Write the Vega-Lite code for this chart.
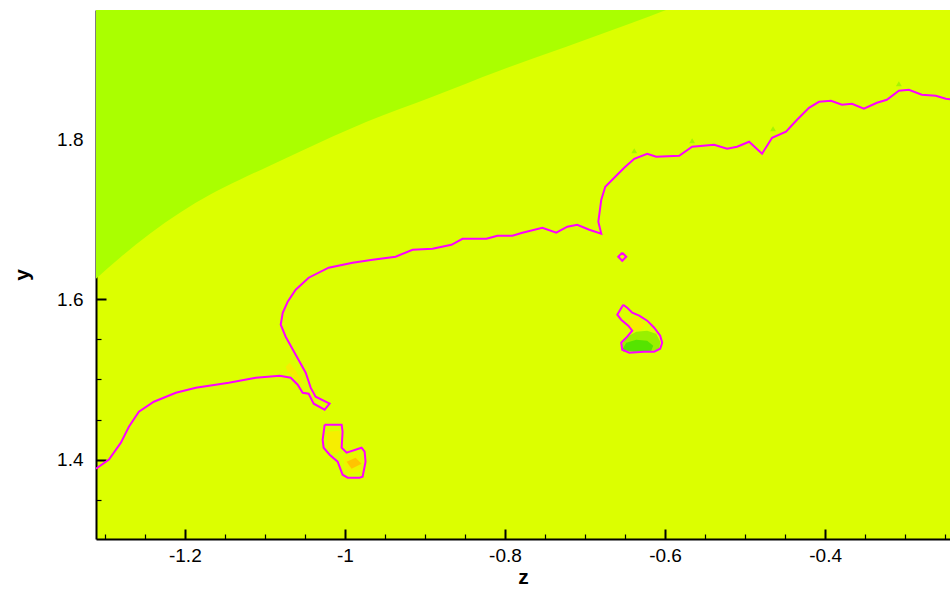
{
  "$schema": "https://vega.github.io/schema/vega-lite/v6.json",
  "width": 854,
  "height": 529,
  "autosize": "none",
  "padding": {"left": 96, "top": 10, "right": 0, "bottom": 51},
  "background": "white",
  "config": {
    "view": {"stroke": null, "fill": "#dcff00"},
    "font": "Liberation Sans"
  },
  "datasets": {
    "bnd": [
      {"z": -1.311, "y": 1.6257}, {"z": -1.2811, "y": 1.6519}, {"z": -1.2437, "y": 1.6819},
      {"z": -1.2062, "y": 1.7081}, {"z": -1.1688, "y": 1.7305}, {"z": -1.1314, "y": 1.7492},
      {"z": -1.0939, "y": 1.7667}, {"z": -1.0565, "y": 1.7842}, {"z": -0.9729, "y": 1.8216},
      {"z": -0.8906, "y": 1.8528}, {"z": -0.807, "y": 1.8852}, {"z": -0.7234, "y": 1.9151},
      {"z": -0.641, "y": 1.9451}, {"z": -0.5949, "y": 1.9625}
    ],
    "patches": [
      {"s": "lg1", "c": "lightgreen", "i": 0, "z": -0.6548, "y": 1.5422},
      {"s": "lg1", "c": "lightgreen", "i": 1, "z": -0.6473, "y": 1.5534},
      {"s": "lg1", "c": "lightgreen", "i": 2, "z": -0.636, "y": 1.5597},
      {"s": "lg1", "c": "lightgreen", "i": 3, "z": -0.6223, "y": 1.5609},
      {"s": "lg1", "c": "lightgreen", "i": 4, "z": -0.6111, "y": 1.5572},
      {"s": "lg1", "c": "lightgreen", "i": 5, "z": -0.6061, "y": 1.5472},
      {"s": "lg1", "c": "lightgreen", "i": 6, "z": -0.6073, "y": 1.5372},
      {"s": "lg1", "c": "lightgreen", "i": 7, "z": -0.6261, "y": 1.5347},
      {"s": "lg1", "c": "lightgreen", "i": 8, "z": -0.6523, "y": 1.5347},
      {"s": "g1", "c": "green", "i": 0, "z": -0.6535, "y": 1.5372},
      {"s": "g1", "c": "green", "i": 1, "z": -0.6485, "y": 1.5459},
      {"s": "g1", "c": "green", "i": 2, "z": -0.636, "y": 1.5497},
      {"s": "g1", "c": "green", "i": 3, "z": -0.6223, "y": 1.5484},
      {"s": "g1", "c": "green", "i": 4, "z": -0.6148, "y": 1.5422},
      {"s": "g1", "c": "green", "i": 5, "z": -0.6173, "y": 1.5359},
      {"s": "g1", "c": "green", "i": 6, "z": -0.6385, "y": 1.5347},
      {"s": "y1", "c": "yellow", "i": 0, "z": -0.6473, "y": 1.5746},
      {"s": "y1", "c": "yellow", "i": 1, "z": -0.636, "y": 1.5784},
      {"s": "y1", "c": "yellow", "i": 2, "z": -0.6248, "y": 1.5696},
      {"s": "y1", "c": "yellow", "i": 3, "z": -0.6311, "y": 1.5609},
      {"s": "y1", "c": "yellow", "i": 4, "z": -0.6435, "y": 1.5634},
      {"s": "y2", "c": "yellow", "i": 0, "z": -1.0228, "y": 1.4349},
      {"s": "y2", "c": "yellow", "i": 1, "z": -1.0066, "y": 1.4361},
      {"s": "y2", "c": "yellow", "i": 2, "z": -1.0054, "y": 1.4124},
      {"s": "y2", "c": "yellow", "i": 3, "z": -1.0116, "y": 1.4062},
      {"s": "y2", "c": "yellow", "i": 4, "z": -1.0216, "y": 1.4137},
      {"s": "ly2", "c": "lightyellow", "i": 0, "z": -1.0016, "y": 1.4025},
      {"s": "ly2", "c": "lightyellow", "i": 1, "z": -0.9842, "y": 1.4087},
      {"s": "ly2", "c": "lightyellow", "i": 2, "z": -0.9792, "y": 1.4},
      {"s": "ly2", "c": "lightyellow", "i": 3, "z": -0.9804, "y": 1.385},
      {"s": "ly2", "c": "lightyellow", "i": 4, "z": -0.9941, "y": 1.3825},
      {"s": "ly2", "c": "lightyellow", "i": 5, "z": -1.0004, "y": 1.3912},
      {"s": "o2", "c": "orange", "i": 0, "z": -0.9979, "y": 1.3975},
      {"s": "o2", "c": "orange", "i": 1, "z": -0.9867, "y": 1.4025},
      {"s": "o2", "c": "orange", "i": 2, "z": -0.9792, "y": 1.395},
      {"s": "o2", "c": "orange", "i": 3, "z": -0.9917, "y": 1.3887},
      {"s": "y3", "c": "yellow", "i": 0, "z": -1.069, "y": 1.521},
      {"s": "y3", "c": "yellow", "i": 1, "z": -1.0615, "y": 1.511},
      {"s": "y3", "c": "yellow", "i": 2, "z": -1.0503, "y": 1.4923},
      {"s": "y3", "c": "yellow", "i": 3, "z": -1.0578, "y": 1.4985},
      {"s": "y3", "c": "yellow", "i": 4, "z": -1.0715, "y": 1.5097},
      {"s": "y3", "c": "yellow", "i": 5, "z": -1.074, "y": 1.5159}
    ],
    "tri": [
      {"z": -0.6385, "y": 1.7854}, {"z": -0.5662, "y": 1.7979},
      {"z": -0.4651, "y": 1.8129}, {"z": -0.3079, "y": 1.869}
    ],
    "contours": [
      {"s": "main", "i": 0, "z": -1.311, "y": 1.3887},
      {"s": "main", "i": 1, "z": -1.2948, "y": 1.4},
      {"s": "main", "i": 2, "z": -1.2799, "y": 1.4212},
      {"s": "main", "i": 3, "z": -1.2699, "y": 1.4411},
      {"s": "main", "i": 4, "z": -1.2574, "y": 1.4598},
      {"s": "main", "i": 5, "z": -1.2387, "y": 1.4723},
      {"s": "main", "i": 6, "z": -1.2112, "y": 1.4835},
      {"s": "main", "i": 7, "z": -1.1863, "y": 1.4898},
      {"s": "main", "i": 8, "z": -1.1451, "y": 1.496},
      {"s": "main", "i": 9, "z": -1.1114, "y": 1.5022},
      {"s": "main", "i": 10, "z": -1.0815, "y": 1.5047},
      {"s": "main", "i": 11, "z": -1.0677, "y": 1.5022},
      {"s": "main", "i": 12, "z": -1.059, "y": 1.4935},
      {"s": "main", "i": 13, "z": -1.0528, "y": 1.4835},
      {"s": "main", "i": 14, "z": -1.0453, "y": 1.4823},
      {"s": "main", "i": 15, "z": -1.039, "y": 1.4698},
      {"s": "main", "i": 16, "z": -1.0253, "y": 1.4623},
      {"s": "main", "i": 17, "z": -1.0191, "y": 1.4698},
      {"s": "main", "i": 18, "z": -1.0366, "y": 1.4785},
      {"s": "main", "i": 19, "z": -1.0428, "y": 1.4898},
      {"s": "main", "i": 20, "z": -1.049, "y": 1.5085},
      {"s": "main", "i": 21, "z": -1.0615, "y": 1.5309},
      {"s": "main", "i": 22, "z": -1.074, "y": 1.5534},
      {"s": "main", "i": 23, "z": -1.0802, "y": 1.5684},
      {"s": "main", "i": 24, "z": -1.0777, "y": 1.5833},
      {"s": "main", "i": 25, "z": -1.0715, "y": 1.597},
      {"s": "main", "i": 26, "z": -1.0615, "y": 1.612},
      {"s": "main", "i": 27, "z": -1.0453, "y": 1.627},
      {"s": "main", "i": 28, "z": -1.0203, "y": 1.6395},
      {"s": "main", "i": 29, "z": -0.9904, "y": 1.6457},
      {"s": "main", "i": 30, "z": -0.9654, "y": 1.6494},
      {"s": "main", "i": 31, "z": -0.9367, "y": 1.6532},
      {"s": "main", "i": 32, "z": -0.9155, "y": 1.6619},
      {"s": "main", "i": 33, "z": -0.8906, "y": 1.6631},
      {"s": "main", "i": 34, "z": -0.8669, "y": 1.6681},
      {"s": "main", "i": 35, "z": -0.8531, "y": 1.6756},
      {"s": "main", "i": 36, "z": -0.8232, "y": 1.6756},
      {"s": "main", "i": 37, "z": -0.8095, "y": 1.6794},
      {"s": "main", "i": 38, "z": -0.7908, "y": 1.6794},
      {"s": "main", "i": 39, "z": -0.7783, "y": 1.6831},
      {"s": "main", "i": 40, "z": -0.7533, "y": 1.6894},
      {"s": "main", "i": 41, "z": -0.7359, "y": 1.6831},
      {"s": "main", "i": 42, "z": -0.7221, "y": 1.6906},
      {"s": "main", "i": 43, "z": -0.7097, "y": 1.6931},
      {"s": "main", "i": 44, "z": -0.6947, "y": 1.6869},
      {"s": "main", "i": 45, "z": -0.6797, "y": 1.6819},
      {"s": "main", "i": 46, "z": -0.6834, "y": 1.6968},
      {"s": "main", "i": 47, "z": -0.6797, "y": 1.7243},
      {"s": "main", "i": 48, "z": -0.6747, "y": 1.7405},
      {"s": "main", "i": 49, "z": -0.661, "y": 1.7542},
      {"s": "main", "i": 50, "z": -0.651, "y": 1.7642},
      {"s": "main", "i": 51, "z": -0.6385, "y": 1.7754},
      {"s": "main", "i": 52, "z": -0.6223, "y": 1.7817},
      {"s": "main", "i": 53, "z": -0.6111, "y": 1.7779},
      {"s": "main", "i": 54, "z": -0.5824, "y": 1.7792},
      {"s": "main", "i": 55, "z": -0.5662, "y": 1.7904},
      {"s": "main", "i": 56, "z": -0.5387, "y": 1.7929},
      {"s": "main", "i": 57, "z": -0.5225, "y": 1.7879},
      {"s": "main", "i": 58, "z": -0.51, "y": 1.7904},
      {"s": "main", "i": 59, "z": -0.495, "y": 1.7966},
      {"s": "main", "i": 60, "z": -0.4788, "y": 1.7817},
      {"s": "main", "i": 61, "z": -0.4663, "y": 1.8016},
      {"s": "main", "i": 62, "z": -0.4489, "y": 1.8091},
      {"s": "main", "i": 63, "z": -0.4351, "y": 1.8241},
      {"s": "main", "i": 64, "z": -0.4202, "y": 1.839},
      {"s": "main", "i": 65, "z": -0.4077, "y": 1.8465},
      {"s": "main", "i": 66, "z": -0.3927, "y": 1.8477},
      {"s": "main", "i": 67, "z": -0.379, "y": 1.8428},
      {"s": "main", "i": 68, "z": -0.3665, "y": 1.844},
      {"s": "main", "i": 69, "z": -0.3516, "y": 1.8378},
      {"s": "main", "i": 70, "z": -0.3353, "y": 1.8453},
      {"s": "main", "i": 71, "z": -0.3229, "y": 1.849},
      {"s": "main", "i": 72, "z": -0.3079, "y": 1.8602},
      {"s": "main", "i": 73, "z": -0.2954, "y": 1.8615},
      {"s": "main", "i": 74, "z": -0.2792, "y": 1.8553},
      {"s": "main", "i": 75, "z": -0.2617, "y": 1.854},
      {"s": "main", "i": 76, "z": -0.2492, "y": 1.8503},
      {"s": "main", "i": 77, "z": -0.2392, "y": 1.849},
      {"s": "dia", "i": 0, "z": -0.6535, "y": 1.6582},
      {"s": "dia", "i": 1, "z": -0.6485, "y": 1.6532},
      {"s": "dia", "i": 2, "z": -0.6535, "y": 1.6482},
      {"s": "dia", "i": 3, "z": -0.6585, "y": 1.6532},
      {"s": "dia", "i": 4, "z": -0.6535, "y": 1.6582},
      {"s": "loop1", "i": 0, "z": -0.6523, "y": 1.5933},
      {"s": "loop1", "i": 1, "z": -0.6597, "y": 1.5809},
      {"s": "loop1", "i": 2, "z": -0.6548, "y": 1.5746},
      {"s": "loop1", "i": 3, "z": -0.646, "y": 1.5671},
      {"s": "loop1", "i": 4, "z": -0.641, "y": 1.5609},
      {"s": "loop1", "i": 5, "z": -0.6473, "y": 1.5534},
      {"s": "loop1", "i": 6, "z": -0.6548, "y": 1.5459},
      {"s": "loop1", "i": 7, "z": -0.6535, "y": 1.5372},
      {"s": "loop1", "i": 8, "z": -0.6448, "y": 1.5334},
      {"s": "loop1", "i": 9, "z": -0.6261, "y": 1.5347},
      {"s": "loop1", "i": 10, "z": -0.6136, "y": 1.5347},
      {"s": "loop1", "i": 11, "z": -0.6061, "y": 1.5384},
      {"s": "loop1", "i": 12, "z": -0.6036, "y": 1.5459},
      {"s": "loop1", "i": 13, "z": -0.6061, "y": 1.5547},
      {"s": "loop1", "i": 14, "z": -0.6136, "y": 1.5646},
      {"s": "loop1", "i": 15, "z": -0.6223, "y": 1.5734},
      {"s": "loop1", "i": 16, "z": -0.6323, "y": 1.5796},
      {"s": "loop1", "i": 17, "z": -0.641, "y": 1.5833},
      {"s": "loop1", "i": 18, "z": -0.6473, "y": 1.5896},
      {"s": "loop1", "i": 19, "z": -0.6523, "y": 1.5933},
      {"s": "loop2", "i": 0, "z": -1.0253, "y": 1.4436},
      {"s": "loop2", "i": 1, "z": -1.0041, "y": 1.4436},
      {"s": "loop2", "i": 2, "z": -1.0029, "y": 1.4349},
      {"s": "loop2", "i": 3, "z": -1.0041, "y": 1.4149},
      {"s": "loop2", "i": 4, "z": -0.9979, "y": 1.4087},
      {"s": "loop2", "i": 5, "z": -0.9792, "y": 1.4149},
      {"s": "loop2", "i": 6, "z": -0.9754, "y": 1.4099},
      {"s": "loop2", "i": 7, "z": -0.9742, "y": 1.3975},
      {"s": "loop2", "i": 8, "z": -0.9779, "y": 1.3787},
      {"s": "loop2", "i": 9, "z": -0.9817, "y": 1.3775},
      {"s": "loop2", "i": 10, "z": -0.9966, "y": 1.3775},
      {"s": "loop2", "i": 11, "z": -1.0029, "y": 1.3812},
      {"s": "loop2", "i": 12, "z": -1.0091, "y": 1.3975},
      {"s": "loop2", "i": 13, "z": -1.0191, "y": 1.4062},
      {"s": "loop2", "i": 14, "z": -1.0266, "y": 1.4149},
      {"s": "loop2", "i": 15, "z": -1.0278, "y": 1.4249},
      {"s": "loop2", "i": 16, "z": -1.0253, "y": 1.4436}
    ]
  },
  "encoding": {
    "x": {
      "field": "z",
      "type": "quantitative",
      "scale": {"domain": [-1.311, -0.244], "nice": false, "zero": false},
      "axis": {
        "title": "z",
        "values": [-1.3, -1.25, -1.2, -1.15, -1.1, -1.05, -1, -0.95, -0.9, -0.85, -0.8, -0.75, -0.7, -0.65, -0.6, -0.55, -0.5, -0.45, -0.4, -0.35, -0.3, -0.25],
        "labelExpr": "round(datum.value*100) % 20 == 0 ? replace(format(datum.value, '~g'), '\u2212', '-') : ''",
        "tickSize": {"condition": {"test": "round(datum.value*100) % 20 == 0", "value": -10}, "value": -5},
        "tickWidth": {"condition": {"test": "round(datum.value*100) % 20 == 0", "value": 2}, "value": 1.2},
        "tickColor": "black",
        "domainColor": "black",
        "domainWidth": 2,
        "grid": false,
        "labelFont": "Liberation Sans",
        "labelFontSize": 19,
        "labelColor": "black",
        "labelPadding": 17,
        "labelFlush": false,
        "labelOverlap": false,
        "titleFont": "Liberation Sans",
        "titleFontSize": 21,
        "titleFontWeight": "bold",
        "titleColor": "black",
        "titlePadding": -4
      }
    },
    "y": {
      "field": "y",
      "type": "quantitative",
      "scale": {"domain": [1.301, 1.961], "nice": false, "zero": false},
      "axis": {
        "title": "y",
        "values": [1.35, 1.4, 1.45, 1.5, 1.55, 1.6, 1.65, 1.7, 1.75, 1.8, 1.85, 1.9, 1.95],
        "labelExpr": "round(datum.value*100) % 20 == 0 ? format(datum.value, '~g') : ''",
        "tickSize": {"condition": {"test": "round(datum.value*100) % 20 == 0", "value": -10}, "value": -5},
        "tickWidth": {"condition": {"test": "round(datum.value*100) % 20 == 0", "value": 2}, "value": 1.2},
        "tickColor": "black",
        "domainColor": "black",
        "domainWidth": 2,
        "grid": false,
        "labelFont": "Liberation Sans",
        "labelFontSize": 19,
        "labelColor": "black",
        "labelPadding": 23,
        "labelFlush": false,
        "labelOverlap": false,
        "titleFont": "Liberation Sans",
        "titleFontSize": 21,
        "titleFontWeight": "bold",
        "titleColor": "black",
        "titlePadding": 24
      }
    }
  },
  "layer": [
    {
      "data": {"name": "bnd"},
      "mark": {"type": "area", "color": "#aaff00", "interpolate": "monotone", "clip": true},
      "encoding": {"y2": {"datum": 1.961}}
    },
    {
      "data": {"name": "patches"},
      "mark": {"type": "line", "strokeWidth": 0, "strokeOpacity": 0, "clip": true},
      "encoding": {
        "detail": {"field": "s"},
        "order": {"field": "i", "type": "quantitative"},
        "fill": {
          "field": "c",
          "type": "nominal",
          "scale": {"domain": ["lightgreen", "green", "yellow", "lightyellow", "orange"], "range": ["#99f000", "#55e400", "#f6ee00", "#eef400", "#ffc400"]},
          "legend": null
        }
      }
    },
    {
      "data": {"name": "tri"},
      "mark": {"type": "point", "shape": "triangle-up", "filled": true, "size": 35, "color": "#a6f500", "opacity": 1, "clip": true}
    },
    {
      "data": {"name": "contours"},
      "mark": {"type": "line", "color": "#ff00ff", "strokeWidth": 2, "clip": true},
      "encoding": {
        "detail": {"field": "s"},
        "order": {"field": "i", "type": "quantitative"}
      }
    }
  ]
}
